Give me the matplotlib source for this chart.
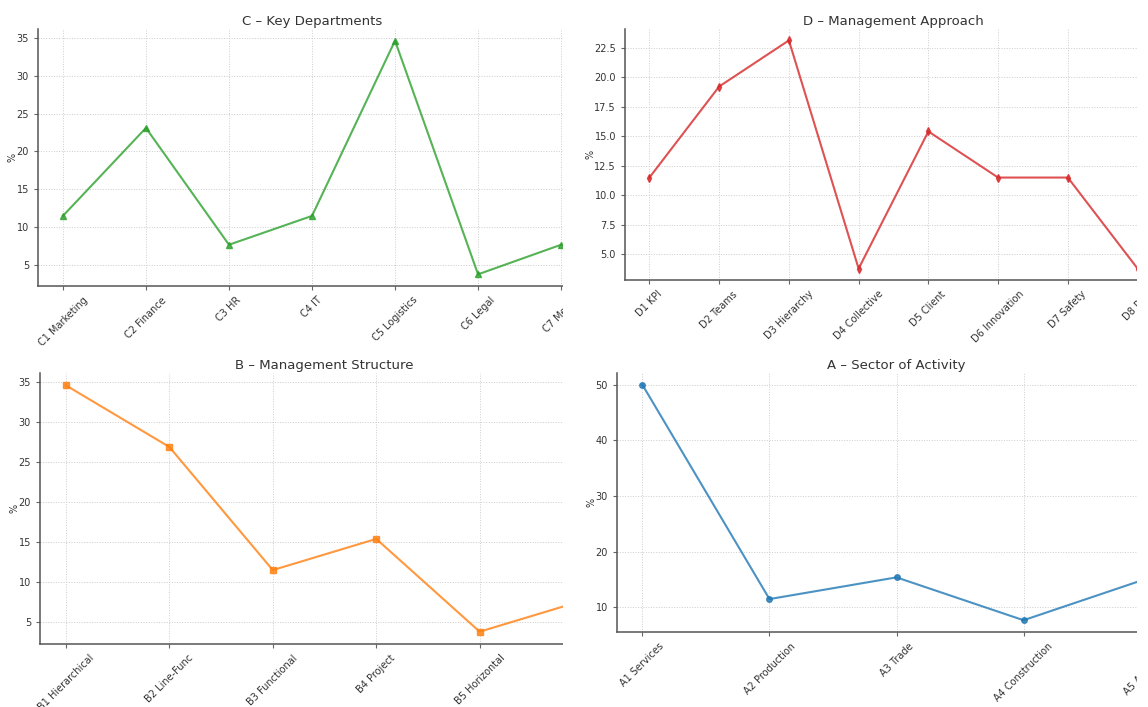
import matplotlib
matplotlib.use('Agg')
import matplotlib.pyplot as plt
from matplotlib.patches import Rectangle

# data (%)
c_labels = ['C1 Marketing', 'C2 Finance', 'C3 HR', 'C4 IT', 'C5 Logistics', 'C6 Legal', 'C7 Media']
c_values = [11.5, 23.1, 7.7, 11.5, 34.6, 3.8, 7.7]

d_labels = ['D1 KPI', 'D2 Teams', 'D3 Hierarchy', 'D4 Collective', 'D5 Client',
            'D6 Innovation', 'D7 Safety', 'D8 Risk']
d_values = [11.5, 19.2, 23.1, 3.8, 15.4, 11.5, 11.5, 3.8]

b_labels = ['B1 Hierarchical', 'B2 Line-Func', 'B3 Functional', 'B4 Project', 'B5 Horizontal', 'B6 Matrix']
b_values = [34.6, 26.9, 11.5, 15.4, 3.8, 7.7]

a_labels = ['A1 Services', 'A2 Production', 'A3 Trade', 'A4 Construction', 'A5 Agriculture']
a_values = [50.0, 11.5, 15.4, 7.7, 15.4]

W, H = 1148, 707
fig = plt.figure(figsize=(W / 100, H / 100), dpi=100)


def box(left, top, right, bottom):
    # pixel box -> figure fraction
    return [left / W, (H - bottom) / H, (right - left) / W, (bottom - top) / H]


def panel(rect, labels, values, color, marker, title, z):
    ax = fig.add_axes(rect)
    ax.set_zorder(z)
    x = range(len(labels))
    ax.plot(x, values, color=color, marker=marker, markersize=4, linewidth=1.5, alpha=0.8)
    ax.set_xticks(list(x))
    ax.set_xticklabels(labels, rotation=45, fontsize=7)
    ax.tick_params(axis='y', labelsize=7)
    ax.tick_params(color='#666666', labelcolor='#333333', length=3)
    ax.set_ylabel('%', fontsize=7, color='#333333', labelpad=-1)
    ax.set_title(title, fontsize=9.5, color='#333333', pad=3)
    ax.grid(True, linestyle=':', color='#cccccc', linewidth=0.7)
    for s in ['top', 'right']:
        ax.spines[s].set_visible(False)
    for s in ['left', 'bottom']:
        ax.spines[s].set_color('#555555')
        ax.spines[s].set_linewidth(1.1)
    return ax


panel(box(38, 29, 586, 286), c_labels, c_values, 'tab:green', '^', 'C – Key Departments', 0)
panel(box(40, 373, 609, 644), b_labels, b_values, 'tab:orange', 's', 'B – Management Structure', 0)
panel(box(625, 29, 1162, 280), d_labels, d_values, 'tab:red', 'd', 'D – Management Approach', 2)
panel(box(617, 373, 1176, 632), a_labels, a_values, 'tab:blue', 'o', 'A – Sector of Activity', 2)

# the panels are cut off on the right, as in the source picture
fig.add_artist(Rectangle((563 / W, 0), 97 / W, 1, transform=fig.transFigure,
                         facecolor='white', edgecolor='none', zorder=1))
fig.add_artist(Rectangle((1137 / W, 0), 20 / W, 1, transform=fig.transFigure,
                         facecolor='white', edgecolor='none', zorder=3))

fig.savefig('out.png', dpi=100, facecolor='white')
